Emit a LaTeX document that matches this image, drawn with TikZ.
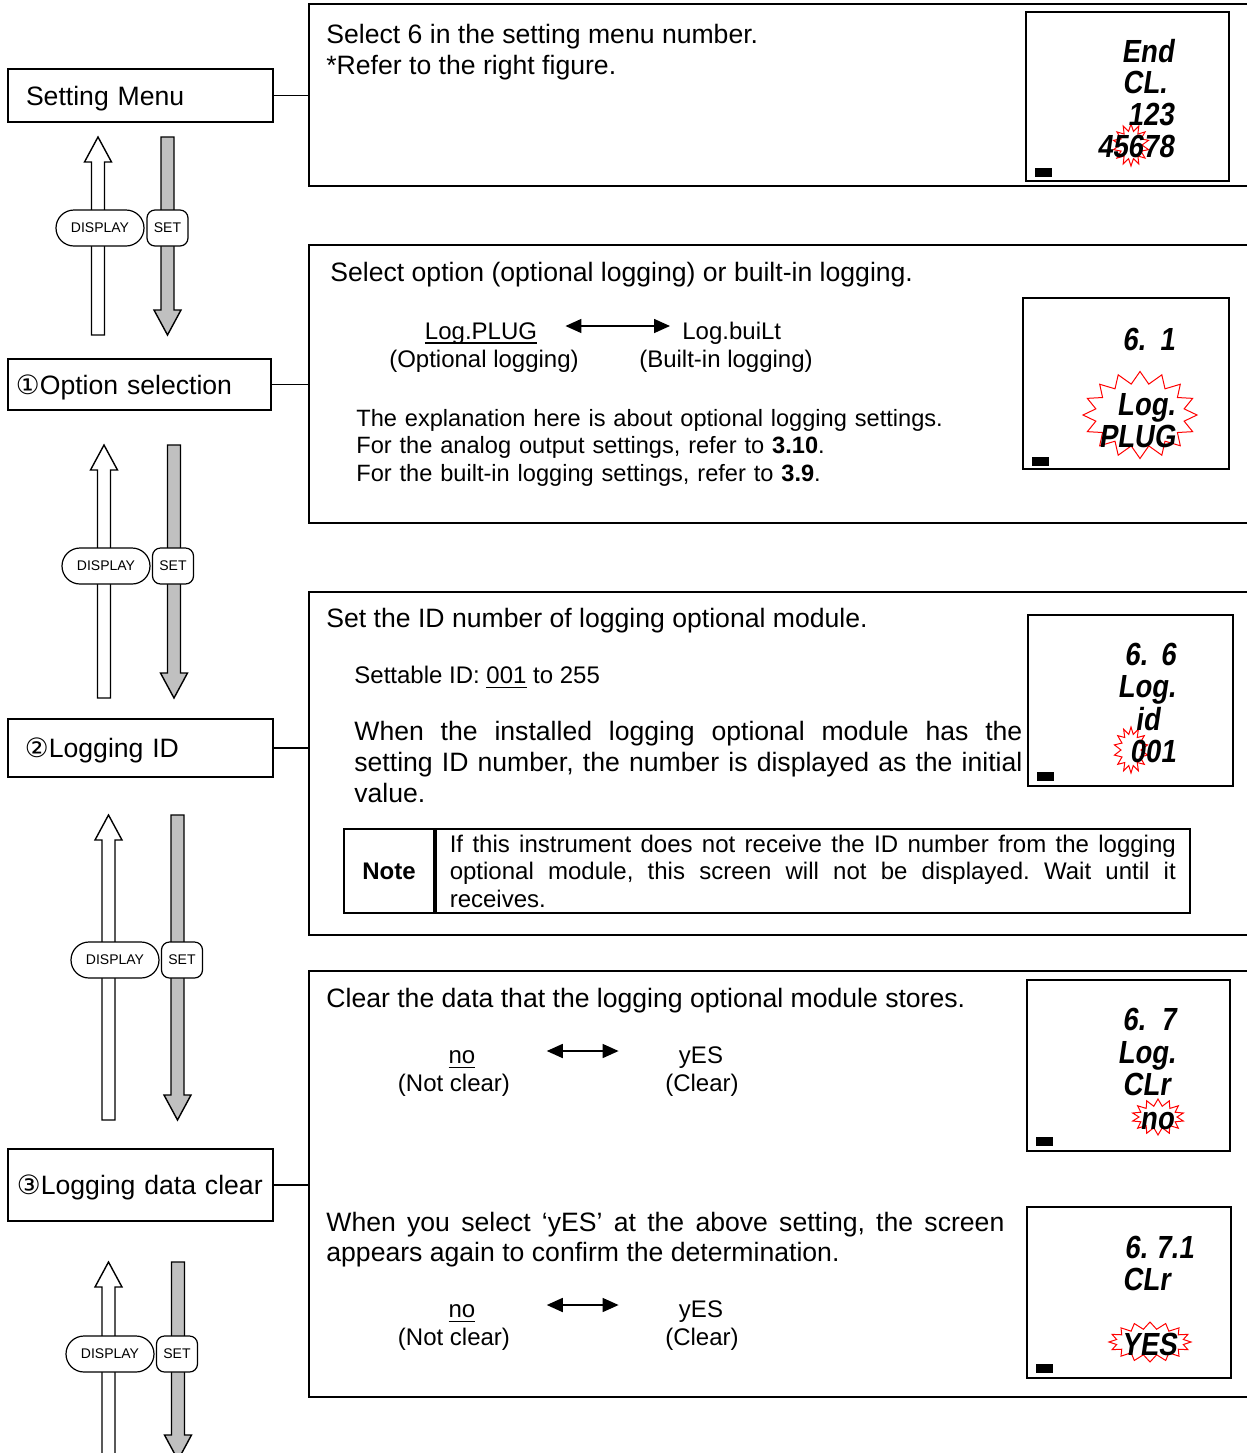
\documentclass[tikz,border=0pt]{standalone}
\usepackage{fontspec}
\setmainfont{Liberation Sans}
\newfontfamily\circfont{DejaVu Sans}
\newfontfamily\lcdfont{Liberation Sans}[UprightFont={* Bold}, FakeSlant=0.15, FakeStretch=0.86]
\newcommand{\undertxt}[1]{\setbox0\hbox{#1}\rlap{\vrule width \wd0 height -1.6pt depth 2.3pt}\box0\relax}
\frenchspacing
\usetikzlibrary{arrows.meta, positioning, calc, shapes.symbols}
\definecolor{keygray}{HTML}{C0C0C0}

\begin{document}
\begin{tikzpicture}[x=0.5pt, y=-0.5pt,
  font=\fontsize{13.3}{15.5}\selectfont,
  menubox/.style={rectangle, draw, line width=0.75pt, align=left, inner ysep=0pt, text depth=0pt},
  panel/.style={rectangle, draw, line width=0.9pt, minimum width=470.5pt},
  lcd/.style={rectangle, draw, line width=1.4pt},
  seg/.style={font=\lcdfont\fontsize{16}{16}\selectfont, inner sep=0pt},
  blink/.style={starburst, draw=red, line width=0.5pt, random starburst=0,
                starburst points=14, starburst point height=3.5pt, inner sep=0pt},
  lcdmark/.style={rectangle, fill=black, minimum width=8.5pt, minimum height=4.5pt, inner sep=0pt},
  txtbody/.style={font=\fontsize{13.3}{15.5}\selectfont, inner sep=0pt},
  txtsmall/.style={font=\fontsize{12}{13.75}\selectfont, inner sep=0pt},
  keybtn/.style={rectangle, rounded corners=9pt, draw, line width=0.6pt, fill=white,
                 minimum width=44pt, minimum height=18pt, inner sep=0pt, font=\fontsize{7}{8}\selectfont},
  setbtn/.style={keybtn, rounded corners=4pt, minimum width=20.5pt},
  link/.style={line width=0.75pt},
  swap/.style={{Triangle[length=8pt,width=7pt]}-{Triangle[length=8pt,width=7pt]}, line width=0.8pt},
  upkey/.style={draw, line width=0.7pt, fill=white, to path={
    ($(\tikztostart)+(-6.5,0)$) -- ($(\tikztotarget)+(-6.5,25)$) -- ($(\tikztotarget)+(-13.5,25)$)
    -- (\tikztotarget) -- ($(\tikztotarget)+(13.5,25)$) -- ($(\tikztotarget)+(6.5,25)$)
    -- ($(\tikztostart)+(6.5,0)$) -- cycle}},
  downkey/.style={draw, line width=0.7pt, fill=keygray, to path={
    ($(\tikztostart)+(-6.5,0)$) -- ($(\tikztotarget)+(-6.5,-25)$) -- ($(\tikztotarget)+(-13.5,-25)$)
    -- (\tikztotarget) -- ($(\tikztotarget)+(13.5,-25)$) -- ($(\tikztotarget)+(6.5,-25)$)
    -- ($(\tikztostart)+(6.5,0)$) -- cycle}}
]
  \useasboundingbox (0,0) rectangle (1247,1453);

  % --- steps on the left ---
  \node[menubox, minimum height=26.5pt, text width=114.5pt, inner xsep=9pt] (menu) at (140.5,95.5) {Setting Menu};
  \node[menubox, minimum height=25.5pt, text width=123.5pt, inner xsep=4pt] (optsel) at (139.5,384.5) {{\circfont ①}Option selection};
  \node[menubox, minimum height=29pt, text width=115.5pt, inner xsep=8.5pt] (logid) at (140.5,748) {{\circfont ②}Logging ID};
  \node[menubox, minimum height=36pt, text width=123.5pt, inner xsep=4.5pt] (logclr) at (140.5,1185) {{\circfont ③}Logging data clear};

  % --- panels on the right (right edge runs off the page) ---
  \node[panel, minimum height=91pt] (menupanel) at (779.5,95) {};
  \node[panel, minimum height=139pt] (optpanel) at (779.5,384) {};
  \node[panel, minimum height=171.5pt] (idpanel) at (779.5,763.5) {};
  \node[panel, minimum height=213pt] (clrpanel) at (779.5,1184) {};

  \draw[link] (menu.east) -- (menu.east -| menupanel.west);
  \draw[link] (optsel.east) -- (optsel.east -| optpanel.west);
  \draw[link] (logid.east) -- (logid.east -| idpanel.west);
  \draw[link] (logclr.east) -- (logclr.east -| clrpanel.west);

  % --- DISPLAY / SET keys between the steps ---
  \coordinate (u1s) at (98,335);    \coordinate (u1e) at (98,137);
  \coordinate (d1s) at (167.5,137); \coordinate (d1e) at (167.5,335);
  \coordinate (u2s) at (104,698);   \coordinate (u2e) at (104,445);
  \coordinate (d2s) at (174,445);   \coordinate (d2e) at (174,698);
  \coordinate (u3s) at (108.5,1120); \coordinate (u3e) at (108.5,815);
  \coordinate (d3s) at (177.5,815);  \coordinate (d3e) at (177.5,1120);
  \coordinate (u4s) at (108.5,1475); \coordinate (u4e) at (108.5,1262);
  \coordinate (d4s) at (178,1262);   \coordinate (d4e) at (178,1460);
  \draw[upkey] (u1s) to (u1e);  \draw[downkey] (d1s) to (d1e);
  \draw[upkey] (u2s) to (u2e);  \draw[downkey] (d2s) to (d2e);
  \draw[upkey] (u3s) to (u3e);  \draw[downkey] (d3s) to (d3e);
  \draw[upkey] (u4s) to (u4e);  \draw[downkey] (d4s) to (d4e);

  \node[keybtn] (disp1) at (100,228) {DISPLAY};
  \node[setbtn] (set1) at (167.5,228) {SET};
  \node[keybtn] (disp2) at (106,566) {DISPLAY};
  \node[setbtn] (set2) at (173,566) {SET};
  \node[keybtn] (disp3) at (115,960) {DISPLAY};
  \node[setbtn] (set3) at (182,960) {SET};
  \node[keybtn] (disp4) at (110,1354) {DISPLAY};
  \node[setbtn] (set4) at (177,1354) {SET};

  % --- panel 0: setting menu ---
  \node[txtbody, anchor=base west] (menutxt) at (326,43) {Select 6 in the setting menu number.};
  \node[txtbody, anchor=base west] (menuref) at (326,74) {*Refer to the right figure.};
  \node[lcd, minimum width=101.5pt, minimum height=84.5pt] (lcd0) at (1127.5,96.5) {};
  \node[blink, minimum width=18pt, minimum height=21pt] (star0) at (1131,145) {};
  \node[seg, anchor=base east] (l0a) at (1174,62) {End};
  \node[seg, anchor=base west] (l0b) at (1122,93) {CL.};
  \node[seg, anchor=base east] (l0c) at (1174,125) {123};
  \node[seg, anchor=base east] (l0d) at (1174,157) {45678};
  \node[lcdmark] (m0) at (1043.5,172.5) {};

  % --- panel 1: option selection ---
  \node[txtbody, anchor=base west] (opttxt) at (330,281) {Select option (optional logging) or built-in logging.};
  \node[txtsmall, anchor=base] (plug) at (481,339) {\undertxt{Log.PLUG}};
  \node[txtsmall, anchor=base] (plugc) at (484,367) {(Optional logging)};
  \node[txtsmall, anchor=base west] (built) at (682,339) {Log.buiLt};
  \node[txtsmall, anchor=base] (builtc) at (726,367) {(Built-in logging)};
  \draw[swap] ($(plug.base east)+(28,-13)$) -- ($(built.base west)+(-12,-13)$);
  \node[txtsmall, anchor=base west, text width=320pt, align=left, font=\fontsize{11.8}{13.75}\selectfont] (optnote) at (356,426)
    {The explanation here is about optional logging settings.\\
     For the analog output settings, refer to \textbf{3.10}.\\
     For the built-in logging settings, refer to \textbf{3.9}.};
  \node[lcd, minimum width=103pt, minimum height=85.5pt] (lcd1) at (1126,383.5) {};
  \node[blink, starburst points=16, starburst point height=6pt, minimum width=57pt, minimum height=43.5pt] (star1) at (1140,415) {};
  \node[seg, anchor=base west] (l1a) at (1122,350) {6.};
  \node[seg, anchor=base east] (l1b) at (1175,350) {1};
  \node[seg, anchor=base] (l1c) at (1146,415) {Log.};
  \node[seg, anchor=base] (l1d) at (1137,447) {PLUG};
  \node[lcdmark] (m1) at (1040.5,461.5) {};

  % --- panel 2: logging ID ---
  \node[txtbody, anchor=base west] (idtxt) at (326,627) {Set the ID number of logging optional module.};
  \node[txtsmall, anchor=base west] (idrange) at (354,683.5) {Settable ID: \undertxt{001} to 255};
  \node[txtbody, anchor=base west, text width=334pt, align=justify] (idpara) at (354,740)
    {When the installed logging optional module has the\linebreak setting ID number, the number is displayed as the initial\linebreak value.};
  \node[rectangle, draw, line width=0.9pt, minimum width=45pt, minimum height=42pt,
        font=\fontsize{12}{13.75}\selectfont\bfseries] (notehd) at (389,871) {Note};
  \node[rectangle, draw, line width=0.9pt, anchor=west, minimum height=42pt, inner xsep=7pt, inner ysep=0pt,
        text width=363pt, align=justify, font=\fontsize{12}{13.75}\selectfont] (notebd) at (notehd.east)
    {If this instrument does not receive the ID number from the logging\linebreak optional module, this screen will not be displayed. Wait until it\linebreak receives.};
  \node[lcd, minimum width=102.5pt, minimum height=85.5pt] (lcd2) at (1130.5,700.5) {};
  \node[blink, minimum width=17pt, minimum height=23pt] (star2) at (1131,750) {};
  \node[seg, anchor=base west] (l2a) at (1124,665) {6.};
  \node[seg, anchor=base east] (l2b) at (1176,665) {6};
  \node[seg, anchor=base east] (l2c) at (1176,697) {Log.};
  \node[seg, anchor=base east] (l2d) at (1160,730) {id};
  \node[seg, anchor=base east] (l2e) at (1176,762) {001};
  \node[lcdmark] (m2) at (1045.5,776.5) {};

  % --- panel 3: logging data clear ---
  \node[txtbody, anchor=base west] (clrtxt) at (326,1007) {Clear the data that the logging optional module stores.};
  \node[txtsmall, anchor=base] (no1) at (462,1063.5) {\undertxt{no}};
  \node[txtsmall, anchor=base] (no1c) at (454,1091.5) {(Not clear)};
  \node[txtsmall, anchor=base] (yes1) at (701,1063.5) {yES};
  \node[txtsmall, anchor=base] (yes1c) at (702,1091.5) {(Clear)};
  \draw[swap] ($(no1.base east)+(71,-12.5)$) -- ($(yes1.base west)+(-60,-12.5)$);
  \node[txtbody, anchor=base west, text width=339pt, align=justify, font=\fontsize{13.3}{15}\selectfont] (clrpara) at (326,1231)
    {When you select ‘yES’ at the above setting, the screen\linebreak appears again to confirm the determination.};
  \node[txtsmall, anchor=base] (no2) at (462,1317.5) {\undertxt{no}};
  \node[txtsmall, anchor=base] (no2c) at (454,1345.5) {(Not clear)};
  \node[txtsmall, anchor=base] (yes2) at (701,1317.5) {yES};
  \node[txtsmall, anchor=base] (yes2c) at (702,1345.5) {(Clear)};
  \draw[swap] ($(no2.base east)+(71,-12.5)$) -- ($(yes2.base west)+(-60,-12.5)$);

  \node[lcd, minimum width=101.5pt, minimum height=85.5pt] (lcd3) at (1128.5,1065.5) {};
  \node[blink, minimum width=26pt, minimum height=18pt] (star3) at (1158,1117) {};
  \node[seg, anchor=base west] (l3a) at (1122,1030) {6.};
  \node[seg, anchor=base east] (l3b) at (1176,1030) {7};
  \node[seg, anchor=base east] (l3c) at (1176,1063) {Log.};
  \node[seg, anchor=base west] (l3d) at (1122,1095) {CLr};
  \node[seg, anchor=base east] (l3e) at (1174,1129) {no};
  \node[lcdmark] (m3) at (1044.5,1141.5) {};

  \node[lcd, minimum width=102pt, minimum height=85.5pt] (lcd4) at (1129,1292.5) {};
  \node[blink, starburst points=16, minimum width=41pt, minimum height=20pt] (star4) at (1150,1342) {};
  \node[seg, anchor=base west] (l4a) at (1124,1258) {6.};
  \node[seg, anchor=base east] (l4b) at (1194,1258) {7.1};
  \node[seg, anchor=base west] (l4c) at (1122,1290) {CLr};
  \node[seg, anchor=base] (l4d) at (1149,1355) {YES};
  \node[lcdmark] (m4) at (1044.5,1368.5) {};

\end{tikzpicture}
\end{document}
